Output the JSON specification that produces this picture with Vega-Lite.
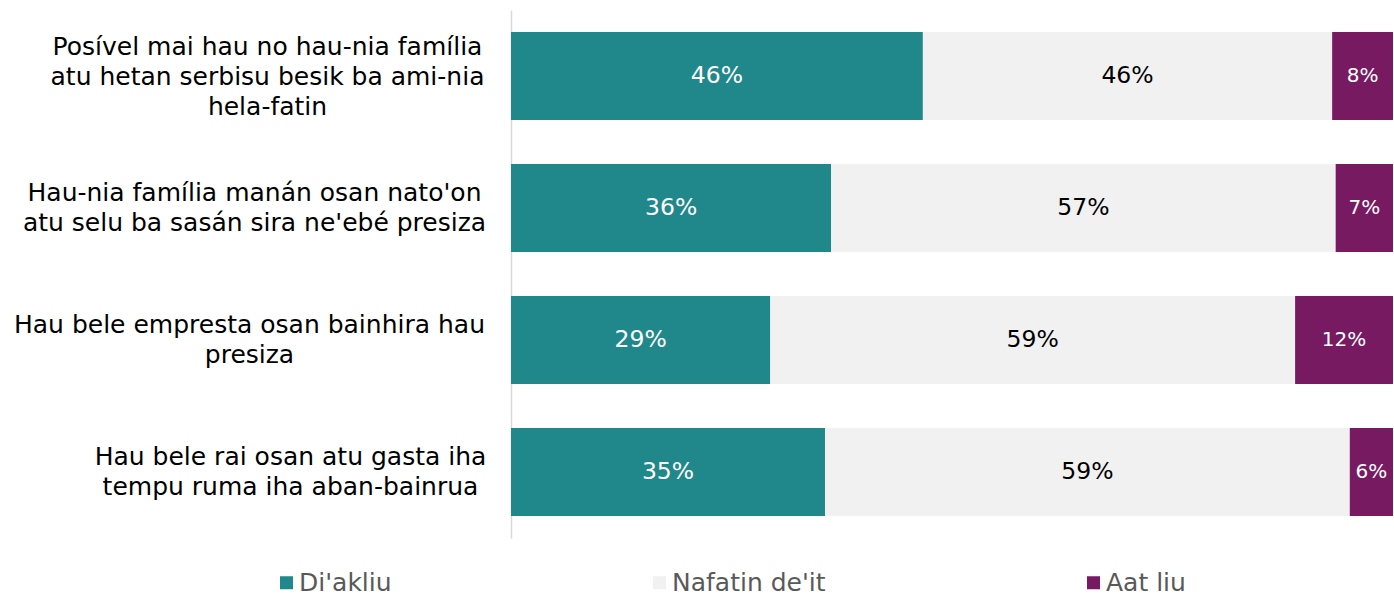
{
  "$schema": "https://vega.github.io/schema/vega-lite/v6.json",
  "width": 882,
  "height": 528,
  "autosize": {"type": "none"},
  "padding": {"left": 511, "top": 10, "right": 1, "bottom": 59},
  "background": "white",
  "config": {"view": {"stroke": null}, "font": "DejaVu Sans"},
  "data": {
    "values": [
      {"q": "Posível mai hau no hau-nia família|atu hetan serbisu besik ba ami-nia|hela-fatin", "cat": "Di'akliu", "ord": 1, "pct": 46.7, "label": "46%"},
      {"q": "Posível mai hau no hau-nia família|atu hetan serbisu besik ba ami-nia|hela-fatin", "cat": "Nafatin de'it", "ord": 2, "pct": 46.4, "label": "46%"},
      {"q": "Posível mai hau no hau-nia família|atu hetan serbisu besik ba ami-nia|hela-fatin", "cat": "Aat liu", "ord": 3, "pct": 6.9, "label": "8%"},
      {"q": "Hau-nia família manán osan nato'on|atu selu ba sasán sira ne'ebé presiza", "cat": "Di'akliu", "ord": 1, "pct": 36.3, "label": "36%"},
      {"q": "Hau-nia família manán osan nato'on|atu selu ba sasán sira ne'ebé presiza", "cat": "Nafatin de'it", "ord": 2, "pct": 57.2, "label": "57%"},
      {"q": "Hau-nia família manán osan nato'on|atu selu ba sasán sira ne'ebé presiza", "cat": "Aat liu", "ord": 3, "pct": 6.5, "label": "7%"},
      {"q": "Hau bele empresta osan bainhira hau|presiza", "cat": "Di'akliu", "ord": 1, "pct": 29.4, "label": "29%"},
      {"q": "Hau bele empresta osan bainhira hau|presiza", "cat": "Nafatin de'it", "ord": 2, "pct": 59.5, "label": "59%"},
      {"q": "Hau bele empresta osan bainhira hau|presiza", "cat": "Aat liu", "ord": 3, "pct": 11.1, "label": "12%"},
      {"q": "Hau bele rai osan atu gasta iha|tempu ruma iha aban-bainrua", "cat": "Di'akliu", "ord": 1, "pct": 35.6, "label": "35%"},
      {"q": "Hau bele rai osan atu gasta iha|tempu ruma iha aban-bainrua", "cat": "Nafatin de'it", "ord": 2, "pct": 59.5, "label": "59%"},
      {"q": "Hau bele rai osan atu gasta iha|tempu ruma iha aban-bainrua", "cat": "Aat liu", "ord": 3, "pct": 4.9, "label": "6%"}
    ]
  },
  "transform": [
    {"stack": "pct", "groupby": ["q"], "sort": [{"field": "ord", "order": "ascending"}], "as": ["x0", "x1"]},
    {"calculate": "(datum.x0 + datum.x1) / 2", "as": "xm"}
  ],
  "encoding": {
    "y": {
      "field": "q",
      "type": "nominal",
      "sort": null,
      "scale": {"paddingInner": 0.3333, "paddingOuter": 0.1667},
      "axis": {
        "title": null,
        "ticks": false,
        "domain": true,
        "domainColor": "#d9d9d9",
        "domainWidth": 1.5,
        "labelExpr": "split(datum.label, '|')",
        "labelAlign": "center",
        "labelBaseline": "middle",
        "labelPadding": {
          "condition": [
            {"test": "indexof(datum.value, 'Posível') === 0", "value": 244},
            {"test": "indexof(datum.value, 'Hau-nia') === 0", "value": 257},
            {"test": "indexof(datum.value, 'Hau bele empresta') === 0", "value": 262}
          ],
          "value": 221
        },
        "labelOffset": {
          "condition": {"test": "indexof(datum.value, 'Posível') === 0", "value": -29},
          "value": -15
        },
        "labelFontSize": 25,
        "labelLineHeight": 30,
        "labelColor": "#000000",
        "labelLimit": 600
      }
    }
  },
  "layer": [
    {
      "mark": {"type": "bar"},
      "encoding": {
        "x": {"field": "x0", "type": "quantitative", "scale": {"domain": [0, 100], "nice": false}, "axis": null},
        "x2": {"field": "x1"},
        "color": {
          "field": "cat",
          "type": "nominal",
          "scale": {"domain": ["Di'akliu", "Nafatin de'it", "Aat liu"], "range": ["#20888a", "#f1f1f1", "#771a61"]},
          "legend": {
            "title": null,
            "orient": "none",
            "direction": "horizontal",
            "legendX": -237,
            "legendY": 560,
            "columnPadding": 255,
            "symbolType": "square",
            "symbolSize": 169,
            "symbolStrokeWidth": 0,
            "labelFontSize": 25,
            "labelColor": "#595959",
            "labelOffset": 0,
            "labelLimit": 400
          }
        }
      }
    },
    {
      "mark": {"type": "text", "baseline": "middle", "align": "center"},
      "encoding": {
        "x": {"field": "xm", "type": "quantitative"},
        "text": {"field": "label"},
        "color": {
          "condition": {"test": "datum.cat === \"Nafatin de'it\"", "value": "#000000"},
          "value": "#ffffff"
        },
        "size": {
          "condition": {"test": "datum.cat === 'Aat liu'", "value": 20},
          "value": 23.5
        }
      }
    }
  ]
}
